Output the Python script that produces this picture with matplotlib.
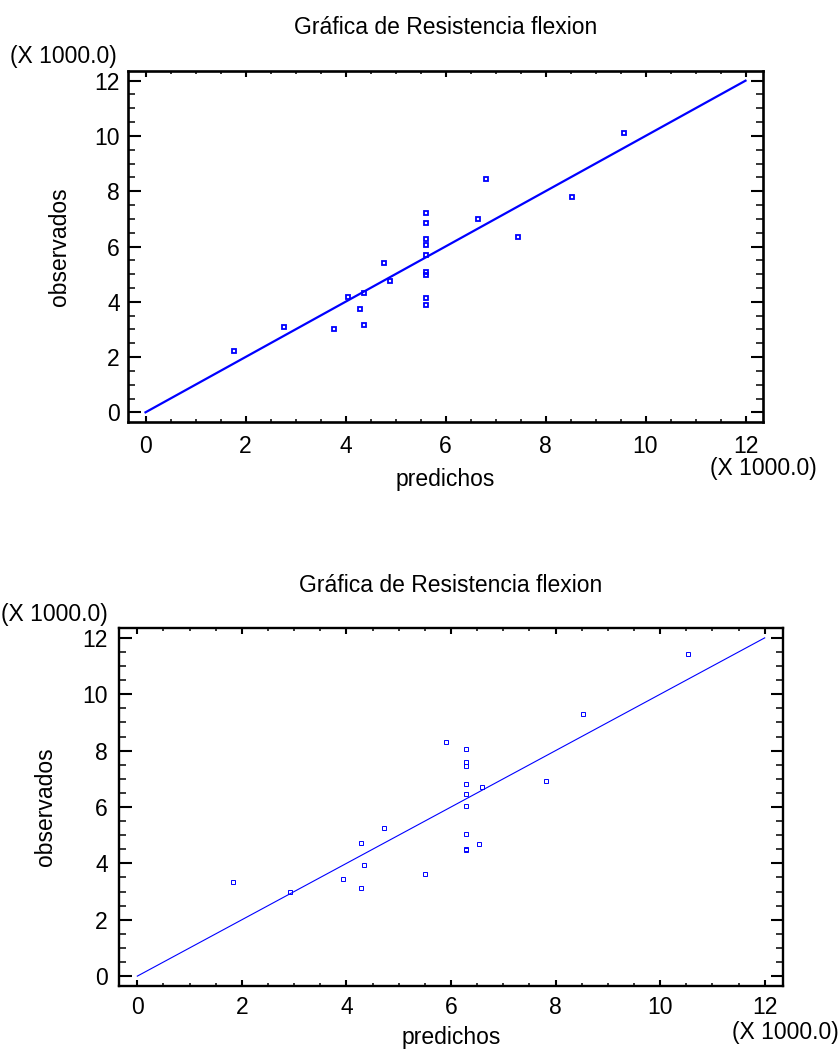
import matplotlib
matplotlib.use('Agg')
import matplotlib.pyplot as plt
from matplotlib.ticker import MultipleLocator

plt.rcParams['font.family'] = ['Liberation Sans', 'DejaVu Sans']

W, H = 840, 1051
scale = 1000.0
title = 'Gráfica de Resistencia flexion'
fs = 16.5

# first model: predicted vs observed
pred_a = [1770, 2770, 3770, 4050, 4280, 4370, 4370, 4770, 4890,
          5600, 5600, 5600, 5600, 5600, 5600, 5600, 5600, 5600,
          6810, 6650, 7440, 8520, 9560]
obs_a = [2230, 3100, 3030, 4180, 3750, 4330, 3170, 5410, 4760,
         7220, 6860, 6280, 6070, 5700, 5080, 4980, 4140, 3890,
         8450, 7010, 6360, 7800, 10120]

# second model
pred_b = [1830, 2920, 3940, 4280, 4330, 4280, 4720, 5510, 5900,
          6280, 6280, 6280, 6280, 6280, 6280, 6280, 6280, 6280,
          6600, 6530, 7820, 8530, 10530]
obs_b = [3340, 2990, 3460, 4720, 3930, 3140, 5250, 3610, 8320,
         8060, 7610, 7460, 6810, 6450, 6050, 5040, 4500, 4470,
         6700, 4680, 6910, 9300, 11420]

diag = [0, 12000]


def px(x, y):
    return x / W, 1 - y / H


def panel(rect, xs, ys, lw, ms, mew, spine_w, xpad, ypad, xlabpad, ylabpad,
          title_y, lab_l, lab_r):
    l, t, r, b = rect
    ax = fig.add_axes([l / W, 1 - b / H, (r - l) / W, (b - t) / H])
    ax.plot([v / scale for v in diag], [v / scale for v in diag],
            color='#0000ff', lw=lw, zorder=2)
    ax.plot([v / scale for v in xs], [v / scale for v in ys], 's',
            mfc='none', mec='#0000ff', ms=ms, mew=mew, zorder=3)
    ax.set_xlim(-0.35, 12.35)
    ax.set_ylim(-0.35, 12.35)
    ax.xaxis.set_major_locator(MultipleLocator(2))
    ax.yaxis.set_major_locator(MultipleLocator(2))
    ax.xaxis.set_minor_locator(MultipleLocator(0.5))
    ax.yaxis.set_minor_locator(MultipleLocator(0.5))
    ax.tick_params(axis='x', which='major', direction='in', top=True,
                   length=4.5, width=1.5, pad=xpad, labelsize=fs)
    ax.tick_params(axis='x', which='minor', direction='in', top=True,
                   length=2.2, width=1.1)
    ax.tick_params(axis='y', which='major', direction='in', right=True,
                   length=9, width=1.5, pad=ypad, labelsize=fs)
    ax.tick_params(axis='y', which='minor', direction='in', right=True,
                   length=5, width=1.1)
    for s in ax.spines.values():
        s.set_linewidth(spine_w)
    ax.set_xlabel('predichos', fontsize=fs, labelpad=xlabpad)
    ax.set_ylabel('observados', fontsize=fs, labelpad=ylabpad)
    fig.text(*px((l + r) / 2, title_y), title, fontsize=fs,
             ha='center', va='center')
    fig.text(*px(*lab_l), '(X 1000.0)', fontsize=fs, ha='right', va='center')
    fig.text(*px(*lab_r), '(X 1000.0)', fontsize=fs, ha='center', va='center')
    return ax


fig = plt.figure(figsize=(W / 100, H / 100), dpi=100)

panel((128, 71, 763, 422), pred_a, obs_a, lw=1.6, ms=3.2, mew=1.3,
      spine_w=1.9, xpad=9.5, ypad=6, xlabpad=7, ylabpad=17,
      title_y=27, lab_l=(117, 57), lab_r=(763, 469))
panel((119, 628, 783, 986), pred_b, obs_b, lw=0.8, ms=3.4, mew=0.7,
      spine_w=1.7, xpad=7, ypad=8, xlabpad=5, ylabpad=18,
      title_y=585, lab_l=(108, 615), lab_r=(785, 1033))

fig.savefig('out.png', dpi=100, facecolor='white')
